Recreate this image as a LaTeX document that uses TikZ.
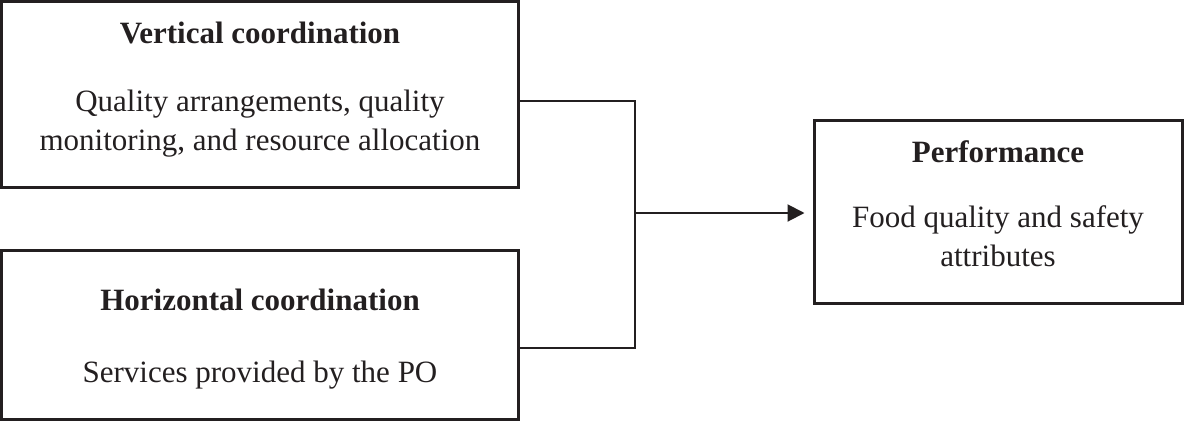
\documentclass[tikz,border=0pt]{standalone}
\usepackage{fontspec}
\setmainfont{Liberation Serif}
\usetikzlibrary{arrows.meta}
\definecolor{ink}{HTML}{231F20}
\begin{document}
\begin{tikzpicture}[x=1pt,y=1pt,
  box/.style={draw=ink,line width=3pt,minimum width=#1,inner sep=0pt},
  ttl/.style={font=\fontsize{31}{39}\selectfont\bfseries,text=ink,align=center,inner sep=0pt},
  txt/.style={font=\fontsize{31}{39}\selectfont,text=ink,align=center,inner sep=0pt},
  conn/.style={draw=ink,line width=2pt}]
\useasboundingbox (0,0) rectangle (1185,-421);
\node[box=516.5pt,minimum height=186pt] (b1) at (259.75,-94.5) {};
\node[box=516.5pt,minimum height=169pt] (b2) at (259.75,-334.5) {};
\node[box=368pt,minimum height=183pt] (b3) at (998,-211.5) {};
\node[ttl] (t1) at (260,-33) {Vertical coordination};
\node[txt] (s1) at (260,-123.5) {Quality arrangements, quality\\monitoring, and resource allocation};
\node[ttl] (t2) at (260,-300) {Horizontal coordination};
\node[txt] (s2) at (260,-375) {Services provided by the PO};
\node[ttl] (t3) at (998,-152) {Performance};
\node[txt] (s3) at (998,-236) {Food quality and safety\\attributes};
\coordinate (jt) at (635,-101);
\coordinate (jb) at (635,-348);
\coordinate (jm) at (635,-213);
\draw[conn] (jt -| b1.east) -- (jt) -- (jb) -- (jb -| b2.east);
\draw[conn,-{Triangle[length=17pt,width=17pt]},shorten >=8pt] (jm) -- (jm -| b3.west);
\end{tikzpicture}
\end{document}
